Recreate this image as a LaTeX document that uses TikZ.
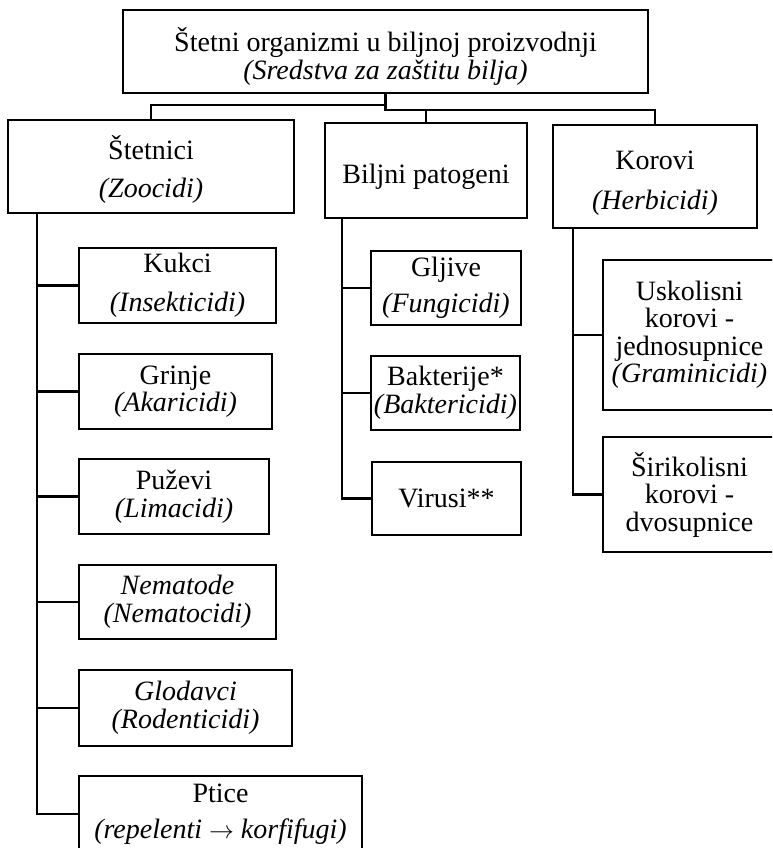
\documentclass[tikz,border=0pt]{standalone}
\usepackage{fontspec}
\setmainfont{Liberation Serif}
\begin{document}
\begin{tikzpicture}[x=1pt,y=-1pt,
  box/.style={draw, line width=2.5pt, inner sep=0pt, align=center,
              font=\fontsize{28pt}{27.5pt}\selectfont},
  link/.style={line width=2.5pt}]
\useasboundingbox (0,0) rectangle (772,848);
\fill[white] (0,0) rectangle (772,848);
\clip (0,0) rectangle (772,848);

% root
\node[box, minimum width=525pt, minimum height=83pt, text height=62pt] (top) at (385.5,51.5)
  {Štetni organizmi u biljnoj proizvodnji\\[1pt]\textit{(Sredstva za zaštitu bilja)}};

% main groups
\node[box, minimum width=286pt, minimum height=93pt, text height=68pt] (stet) at (151,166.5)
  {Štetnici\\[11pt]\textit{(Zoocidi)}};
\node[box, minimum width=202pt, minimum height=95pt, text height=32pt] (bilj) at (426,170.5)
  {Biljni patogeni};
\node[box, minimum width=204pt, minimum height=103pt, text height=72pt] (kor) at (655,176.5)
  {Korovi\\[13pt]\textit{(Herbicidi)}};

% pests
\node[box, minimum width=197pt, minimum height=75pt] (kukci) at (177.5,285.5)
  {Kukci\\[12pt]\textit{(Insekticidi)}};
\node[box, minimum width=193pt, minimum height=75pt] (grinje) at (175.5,391.5)
  {Grinje\\\textit{(Akaricidi)}};
\node[box, minimum width=190pt, minimum height=75pt] (puzevi) at (174,496.5)
  {Puževi\\\textit{(Limacidi)}};
\node[box, minimum width=197pt, minimum height=74pt] (nema) at (177.5,602)
  {\textit{Nematode}\\\textit{(Nematocidi)}};
\node[box, minimum width=213pt, minimum height=76pt] (glod) at (185.5,708)
  {\textit{Glodavci}\\\textit{(Rodenticidi)}};
\node[box, minimum width=283pt, minimum height=76pt] (ptice) at (220.5,814)
  {Ptice\\[9pt]\textit{(repelenti $\rightarrow$ korfifugi)}};

% plant pathogens
\node[box, minimum width=150pt, minimum height=74pt] (gljive) at (446,288)
  {Gljive\\[9pt]\textit{(Fungicidi)}};
\node[box, minimum width=149pt, minimum height=74pt] (bakt) at (445.5,393)
  {Bakterije*\\\textit{(Baktericidi)}};
\node[box, minimum width=149pt, minimum height=73pt] (virusi) at (446.5,498.5)
  {Virusi**};

% weeds
\node[box, minimum width=173pt, minimum height=150pt] (usk) at (689.5,335)
  {Uskolisni\\korovi -\\jednosupnice\\\textit{(Graminicidi)}};
\node[box, minimum width=173pt, minimum height=115pt] (siri) at (689.5,494.5)
  {Širikolisni\\korovi -\\dvosupnice};

% root to groups
\draw[link] (top.south) -- ++(0,11) -| (stet.north);
\draw[link] (top.south) -- ++(0,16) coordinate (bus) -| (bilj.north);
\draw[link] (bus) -| (kor.north);

% group trunks
\coordinate (sv) at (37,213);
\coordinate (bv) at (342,218);
\coordinate (kv) at (573,228);

\draw[link] (sv) |- (ptice.west);
\foreach \n in {kukci,grinje,puzevi,nema,glod}
  \draw[link] (sv |- \n.west) -- (\n.west);

\draw[link] (bv) |- (virusi.west);
\foreach \n in {gljive,bakt}
  \draw[link] (bv |- \n.west) -- (\n.west);

\draw[link] (kv) |- (siri.west);
\draw[link] (kv |- usk.west) -- (usk.west);
\end{tikzpicture}
\end{document}
